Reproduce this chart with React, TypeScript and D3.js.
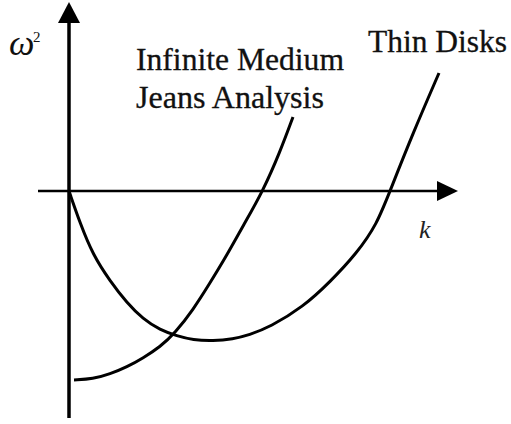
import React from 'react';
import * as d3 from 'd3';

// Dispersion relation sketch: omega^2 vs k (arbitrary units)
const jeansK = [0.5, 2.4, 4.1, 5.8, 7.4, 9.1, 10.6, 12.4, 14.1, 15.8, 17.4, 19.4, 21.1, 22.4];
const jeansW = [-18.9, -18.8, -18.3, -17.6, -16.7, -15.6, -14.2, -11.9, -9.2, -6.4, -3.5, 0, 3.9, 7.4];

const diskK = [0, 1.1, 2.4, 4.1, 5.8, 7.4, 9.1, 10.8, 12.4, 14.4, 16.4, 18.0, 20.1, 23.4, 26.1, 28.8, 30.8, 32.1, 34.4, 37.0];
const diskW = [0, -3.2, -6.4, -9.0, -11.2, -12.8, -13.9, -14.5, -14.9, -15.0, -14.8, -14.4, -13.6, -11.6, -9.1, -6.2, -3.3, 0, 5.8, 11.8];

const curveLabels = ['Infinite Medium', 'Jeans Analysis', 'Thin Disks'];

const W = 511;
const H = 424;

const App = () => {
  const x = d3.scaleLinear().domain([0, 39]).range([69, 459]);
  const y = d3.scaleLinear().domain([-23, 19]).range([421, 1]);

  const line = d3.line<[number, number]>()
    .x(d => x(d[0]))
    .y(d => y(d[1]))
    .curve(d3.curveBasis);

  const jeans = jeansK.map((k, i) => [k, jeansW[i]] as [number, number]);
  const disk = diskK.map((k, i) => [k, diskW[i]] as [number, number]);

  const x0 = x(0);
  const y0 = y(0);
  const yTip = y(18.9);
  const xTip = x(38.9);
  const font = '"Liberation Serif", "Times New Roman", serif';

  return (
    <svg width={W} height={H} style={{ position: 'absolute', top: 0, left: 0, background: '#fff' }}>
      {/* axes */}
      <line x1={x0} x2={x0} y1={y(-22.7)} y2={yTip + 18} stroke="#000" strokeWidth={3.5} />
      <polygon points={`${x0},${yTip} ${x0 - 11},${yTip + 21} ${x0 + 11},${yTip + 21}`} fill="#000" />
      <line x1={x(-3.1)} x2={xTip - 18} y1={y0} y2={y0} stroke="#000" strokeWidth={2.5} />
      <polygon points={`${xTip},${y0} ${xTip - 21},${y0 - 10} ${xTip - 21},${y0 + 10}`} fill="#000" />

      {/* curves */}
      <path d={line(jeans) || ''} fill="none" stroke="#000" strokeWidth={3} />
      <path d={line(disk) || ''} fill="none" stroke="#000" strokeWidth={3} />

      {/* labels */}
      <text x={9} y={55} fontFamily={font} fontStyle="italic" fontSize={36} fill="#111">ω</text>
      <text x={33} y={42} fontFamily={font} fontSize={15} fill="#111">2</text>
      <text x={419} y={238} fontFamily={font} fontStyle="italic" fontSize={26} fill="#222">k</text>

      <g fill="#111" stroke="#111" strokeWidth={0.3}>
        <text x={136} y={70} fontFamily={font} fontSize={31.5}
          textLength={208} lengthAdjust="spacingAndGlyphs">{curveLabels[0]}</text>
        <text x={136} y={108} fontFamily={font} fontSize={31.5}
          textLength={188} lengthAdjust="spacingAndGlyphs">{curveLabels[1]}</text>
        <text x={368} y={52} fontFamily={font} fontSize={31.5}
          textLength={139} lengthAdjust="spacingAndGlyphs">{curveLabels[2]}</text>
      </g>
    </svg>
  );
};

export default App;
